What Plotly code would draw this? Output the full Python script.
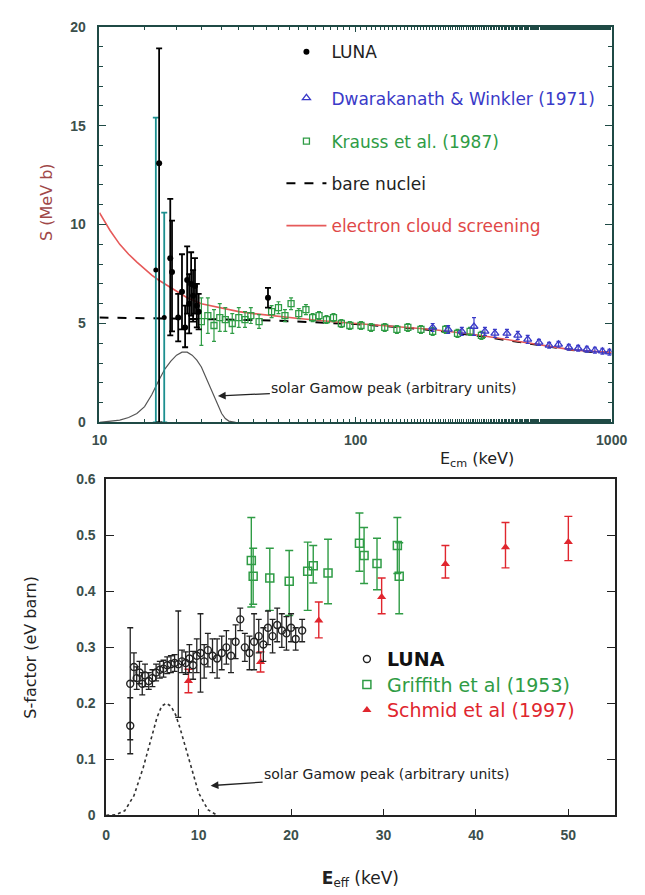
import math
import plotly.graph_objects as go

# ================= TOP PANEL DATA (3He(3He,2p)4He) =================
# LUNA points with black error bars
luna_top_E = [17.1, 18.9, 19.2, 20.3, 21.0, 21.6, 22.0, 22.4, 22.8, 23.2, 23.6, 24.0, 24.4, 45.5]
luna_top_S = [13.1, 8.3, 7.6, 5.3, 6.6, 4.8, 7.2, 6.0, 7.0, 6.4, 6.9, 5.9, 5.6, 6.3]
luna_top_ep = [5.8, 3.0, 2.6, 1.2, 1.9, 1.1, 1.7, 1.5, 1.6, 1.3, 1.4, 1.1, 0.9, 0.5]
luna_top_em = [13.1, 3.9, 3.0, 1.2, 1.9, 1.0, 1.7, 1.5, 1.6, 1.3, 1.4, 1.1, 0.9, 0.5]
# LUNA points whose (very large) error bars appear teal in the figure
luna_teal_E = [16.6, 17.9]
luna_teal_S = [7.7, 5.3]
luna_teal_ep = [7.7, 5.3]
luna_teal_em = [7.7, 5.3]

# Dwarakanath & Winkler (1971)
dw_E = [200, 230, 260, 290, 320, 350, 390, 430, 470, 520, 570, 620, 680, 740, 800, 860, 920, 980]
dw_S = [4.8, 4.7, 4.6, 4.85, 4.6, 4.5, 4.5, 4.4, 4.2, 4.05, 3.9, 3.95, 3.8, 3.75, 3.7, 3.65, 3.6, 3.55]
dw_err = [0.2, 0.2, 0.2, 0.45, 0.2, 0.2, 0.2, 0.2, 0.2, 0.15, 0.15, 0.15, 0.15, 0.15, 0.15, 0.15, 0.15, 0.15]

# Krauss et al. (1987)
kr_E = [25, 26.5, 28, 29.5, 31, 33, 35, 37, 39, 42, 47, 50, 53, 56, 60, 64, 68, 72, 77, 82, 88,
        95, 105, 115, 130, 145, 160, 180, 200, 225, 250, 280, 310]
kr_S = [5.1, 5.4, 4.9, 5.3, 5.2, 5.0, 5.3, 5.2, 5.4, 5.1, 5.6, 5.8, 5.4, 6.0, 5.5, 5.7, 5.3, 5.4, 5.2,
        5.3, 5.0, 4.9, 4.9, 4.8, 4.8, 4.7, 4.8, 4.7, 4.6, 4.7, 4.5, 4.6, 4.4]
kr_err = [1.2, 0.9, 0.8, 0.7, 0.6, 0.5, 0.5, 0.4, 0.4, 0.35, 0.3, 0.3, 0.3, 0.3, 0.25, 0.25, 0.2,
          0.2, 0.2, 0.2, 0.2, 0.2, 0.2, 0.2, 0.2, 0.2, 0.2, 0.2, 0.2, 0.2, 0.2, 0.2, 0.2]

# bare nuclei curve
bare_E = [10, 20, 30, 50, 70, 100, 150, 200, 300, 400, 500, 600, 700, 800, 900, 1000]
bare_S = [5.3, 5.25, 5.21, 5.14, 5.07, 4.97, 4.81, 4.66, 4.38, 4.14, 3.94, 3.78, 3.66, 3.58, 3.53, 3.52]

# electron cloud screening curve
scr_E = [10, 11, 12, 13, 14, 15, 16, 17, 18, 20, 22, 25, 30, 35, 40, 50, 60, 80, 100, 150, 200,
         300, 400, 500, 700, 1000]
scr_S = [10.6, 9.7, 9.0, 8.5, 8.1, 7.75, 7.45, 7.2, 7.0, 6.6, 6.3, 6.0, 5.8, 5.6, 5.5, 5.35, 5.25,
         5.1, 5.0, 4.85, 4.7, 4.42, 4.17, 3.96, 3.67, 3.53]

# solar Gamow peak (arbitrary units), top
gam1_E = [10, 11, 12, 13, 14, 15, 16, 17, 18, 19, 20, 21, 22, 23, 24, 25, 26, 27, 28, 29, 30, 31, 32, 34]
gam1_S = [0.0, 0.05, 0.12, 0.25, 0.45, 0.8, 1.4, 2.1, 2.7, 3.1, 3.4, 3.55, 3.55, 3.4, 3.15, 2.8,
          2.3, 1.85, 1.4, 0.95, 0.45, 0.2, 0.07, 0.0]

top_xticks = [10, 100, 1000]
top_xtick_text = ["10", "100", "1000"]
top_yticks = [0, 5, 10, 15, 20]

# ================= BOTTOM PANEL DATA (d(p,gamma)3He) =================
luna_bot_E = [2.6, 2.6, 3.0, 3.3, 3.6, 3.9, 4.2, 4.6, 5.0, 5.4, 5.8, 6.2, 6.6, 7.0, 7.4, 7.8, 8.2,
              8.6, 9.0, 9.4, 9.8, 10.2, 10.6, 11.0, 11.5, 12.0, 12.5, 13.0, 13.5, 14.0, 14.5, 15.0,
              15.5, 16.0, 16.5, 17.0, 17.5, 18.0, 18.5, 19.0, 19.5, 20.0, 20.5, 21.2]
luna_bot_S = [0.16, 0.235, 0.265, 0.245, 0.255, 0.235, 0.25, 0.24, 0.245, 0.255, 0.26, 0.262, 0.268,
              0.27, 0.272, 0.27, 0.275, 0.272, 0.28, 0.268, 0.285, 0.29, 0.275, 0.295, 0.285, 0.28,
              0.29, 0.3, 0.285, 0.31, 0.35, 0.3, 0.29, 0.31, 0.32, 0.305, 0.335, 0.32, 0.34, 0.33,
              0.325, 0.335, 0.315, 0.33]
luna_bot_err = [0.05, 0.1, 0.025, 0.02, 0.02, 0.02, 0.02, 0.015, 0.015, 0.015, 0.015, 0.015, 0.015,
                0.015, 0.015, 0.095, 0.02, 0.02, 0.025, 0.025, 0.03, 0.07, 0.03, 0.03, 0.03, 0.035,
                0.03, 0.03, 0.03, 0.03, 0.02, 0.025, 0.03, 0.05, 0.03, 0.03, 0.03, 0.03, 0.03, 0.03,
                0.03, 0.025, 0.02, 0.02]

gr_E = [15.7, 15.9, 17.7, 19.8, 21.8, 22.4, 24.0, 27.4, 27.9, 29.3, 31.5, 31.7]
gr_S = [0.455, 0.427, 0.424, 0.418, 0.436, 0.446, 0.433, 0.486, 0.464, 0.45, 0.482, 0.427]
gr_ep = [0.077, 0.05, 0.053, 0.055, 0.052, 0.036, 0.06, 0.054, 0.05, 0.045, 0.05, 0.06]
gr_em = [0.083, 0.05, 0.058, 0.061, 0.07, 0.031, 0.055, 0.05, 0.05, 0.047, 0.05, 0.067]

sc_E = [8.9, 16.7, 23.0, 29.8, 36.7, 43.2, 50.0]
sc_S = [0.24, 0.274, 0.348, 0.39, 0.449, 0.479, 0.488]
sc_ep = [0.021, 0.018, 0.033, 0.034, 0.033, 0.044, 0.046]
sc_em = [0.021, 0.018, 0.031, 0.03, 0.025, 0.037, 0.033]

gam2_E = [0, 1, 2, 3, 4, 5, 5.5, 6, 6.5, 7, 7.5, 8, 9, 10, 11, 12]
gam2_S = [0, 0.001, 0.008, 0.035, 0.085, 0.145, 0.175, 0.195, 0.2, 0.195, 0.18, 0.155, 0.095,
          0.04, 0.01, 0.0]

bot_xticks = [0, 10, 20, 30, 40, 50]
bot_yticks = [0, 0.1, 0.2, 0.3, 0.4, 0.5, 0.6]

# ================= COLOURS / STYLE =================
BLUE = "#3a3ac8"
GREEN = "#2f9c45"
RED = "#e0262e"
SCR = "#e65a5a"
TEAL = "#1c8f8f"
FRAME = "#1f4a45"
FONT = "Liberation Sans"
LFONT = "DejaVu Sans"
W, H = 645, 895


def px(v, total):
    return v / total


fig = go.Figure()

# ---------- top panel traces ----------
fig.add_trace(go.Scatter(x=gam1_E, y=gam1_S, mode="lines", line=dict(color="#555", width=1.2),
                         showlegend=False, xaxis="x", yaxis="y"))
fig.add_trace(go.Scatter(x=bare_E, y=bare_S, mode="lines", line=dict(color="black", width=2, dash="dash"),
                         name="bare nuclei", legend="legend5", xaxis="x", yaxis="y"))
fig.add_trace(go.Scatter(x=scr_E, y=scr_S, mode="lines", line=dict(color=SCR, width=1.6),
                         name="electron cloud screening", legend="legend6", xaxis="x", yaxis="y"))
fig.add_trace(go.Scatter(x=kr_E, y=kr_S, mode="markers",
                         marker=dict(symbol="square-open", size=6, color=GREEN, line=dict(width=1.3)),
                         error_y=dict(type="data", array=kr_err, color=GREEN, thickness=1.2, width=2),
                         name="Krauss et al. (1987)", legend="legend4", xaxis="x", yaxis="y"))
fig.add_trace(go.Scatter(x=dw_E, y=dw_S, mode="markers",
                         marker=dict(symbol="triangle-up-open", size=7, color=BLUE, line=dict(width=1.3)),
                         error_y=dict(type="data", array=dw_err, color=BLUE, thickness=1.2, width=2),
                         name="Dwarakanath & Winkler (1971)", legend="legend3", xaxis="x", yaxis="y"))
fig.add_trace(go.Scatter(x=luna_teal_E, y=luna_teal_S, mode="markers",
                         marker=dict(symbol="circle", size=5, color="black"),
                         error_y=dict(type="data", symmetric=False, array=luna_teal_ep,
                                      arrayminus=luna_teal_em, color=TEAL, thickness=1.8, width=3),
                         showlegend=False, xaxis="x", yaxis="y"))
fig.add_trace(go.Scatter(x=luna_top_E, y=luna_top_S, mode="markers",
                         marker=dict(symbol="circle", size=6, color="black"),
                         error_y=dict(type="data", symmetric=False, array=luna_top_ep,
                                      arrayminus=luna_top_em, color="black", thickness=1.8, width=3),
                         name="LUNA", legend="legend", xaxis="x", yaxis="y"))

# ---------- bottom panel traces ----------
fig.add_trace(go.Scatter(x=gam2_E, y=gam2_S, mode="lines", line=dict(color="#333", width=1.6, dash="dot"),
                         showlegend=False, xaxis="x2", yaxis="y2"))
fig.add_trace(go.Scatter(x=gr_E, y=gr_S, mode="markers",
                         marker=dict(symbol="square-open", size=8, color=GREEN, line=dict(width=1.5)),
                         error_y=dict(type="data", symmetric=False, array=gr_ep, arrayminus=gr_em,
                                      color=GREEN, thickness=1.4, width=4),
                         name="Griffith et al (1953)", legend="legend7", xaxis="x2", yaxis="y2"))
fig.add_trace(go.Scatter(x=sc_E, y=sc_S, mode="markers",
                         marker=dict(symbol="triangle-up", size=8, color=RED),
                         error_y=dict(type="data", symmetric=False, array=sc_ep, arrayminus=sc_em,
                                      color=RED, thickness=1.4, width=4),
                         name="Schmid et al (1997)", legend="legend8", xaxis="x2", yaxis="y2"))
fig.add_trace(go.Scatter(x=luna_bot_E, y=luna_bot_S, mode="markers",
                         marker=dict(symbol="circle-open", size=7, color="#222", line=dict(width=1.4)),
                         error_y=dict(type="data", array=luna_bot_err, color="#222", thickness=1.3, width=3),
                         name="LUNA", legend="legend2", xaxis="x2", yaxis="y2"))

tickfont = dict(family=FONT, size=14, color="#3b4f4c", weight="bold")


def leg(xpx, ypx, size, color, weight="normal", itemwidth=40):
    return dict(x=px(xpx, W), y=1 - px(ypx, H), xanchor="left", yanchor="middle",
                bgcolor="rgba(0,0,0,0)", itemwidth=itemwidth,
                font=dict(family=LFONT, size=size, color=color, weight=weight))


fig.update_layout(
    width=W, height=H, margin=dict(l=0, r=0, t=0, b=0),
    paper_bgcolor="white", plot_bgcolor="white",
    font=dict(family=FONT, size=13, color="black"),
    xaxis=dict(domain=[px(95, W), px(627, W)], anchor="y", type="log", range=[1, 3],
               tickvals=top_xticks, ticktext=top_xtick_text, ticks="inside", ticklen=6,
               tickcolor=FRAME, showline=True, linecolor=FRAME, linewidth=1.6, mirror="ticks",
               showgrid=False, zeroline=False, tickfont=tickfont, ticklabelstandoff=4,
               minor=dict(ticks="inside", ticklen=4, tickcolor=FRAME, showgrid=False)),
    yaxis=dict(domain=[1 - px(422, H), 1 - px(19, H)], anchor="x", range=[0, 20],
               tickvals=top_yticks, ticks="inside", ticklen=7, tickcolor=FRAME,
               showline=True, linecolor=FRAME, linewidth=1.6, mirror="ticks",
               showgrid=False, zeroline=False, tickfont=tickfont, ticklabelstandoff=9,
               minor=dict(ticks="inside", ticklen=4, dtick=1, tickcolor=FRAME, showgrid=False)),
    xaxis2=dict(domain=[px(102, W), px(630, W)], anchor="y2", range=[0, 55],
                tickvals=bot_xticks, ticks="inside", ticklen=7, tickcolor="#222",
                showline=True, linecolor="#222", linewidth=1.6, mirror=True,
                showgrid=False, zeroline=False, tickfont=tickfont, ticklabelstandoff=6,
                title=dict(text="<b>E</b><sub>eff</sub> (keV)", standoff=30,
                           font=dict(family=LFONT, size=17, color="#222"))),
    yaxis2=dict(domain=[1 - px(822, H), 1 - px(480, H)], anchor="x2", range=[0, 0.6],
                tickvals=bot_yticks, ticks="inside", ticklen=8, tickcolor="#222",
                showline=True, linecolor="#222", linewidth=1.6, mirror="ticks",
                showgrid=False, zeroline=False, tickfont=tickfont, ticklabelstandoff=6,
                title=dict(text="S-factor (eV barn)", standoff=36,
                           font=dict(family=LFONT, size=16, color="#222"))),
    # top legend rows
    legend=leg(284, 45, 17, "#222"),
    legend3=leg(284, 92, 17, BLUE),
    legend4=leg(284, 136, 17, GREEN),
    legend5=leg(284, 179, 17, "#222"),
    legend6=leg(284, 222, 17, "#e04848"),
    # bottom legend rows
    legend2=leg(352, 663, 19, "#111", weight="bold", itemwidth=30),
    legend7=leg(352, 689, 19, GREEN, itemwidth=30),
    legend8=leg(352, 715, 19, RED, itemwidth=30),
    showlegend=True,
)

annos = [
    # axis titles of the top panel
    dict(text="S (MeV b)", x=px(40, W), y=1 - px(198, H), xref="paper", yref="paper",
         xanchor="center", yanchor="middle",
         textangle=-90, showarrow=False, font=dict(family=LFONT, size=16, color="#a04848")),
    dict(text="E<sub>cm</sub> (keV)", x=px(487, W), y=1 - px(460, H), xref="paper", yref="paper",
         xanchor="center", yanchor="middle",
         showarrow=False, font=dict(family=LFONT, size=16, color="#222")),
    # Gamow peak labels with arrows (arrow head at the curve, text offset in pixels)
    dict(text="solar Gamow peak (arbitrary units)", x=math.log10(29.0), y=1.34, xref="x", yref="y",
         showarrow=True, ax=176, ay=-8, arrowhead=2, arrowsize=1.2, arrowwidth=1.3,
         arrowcolor="#222", font=dict(family=LFONT, size=14, color="#222")),
    dict(text="solar Gamow peak (arbitrary units)", x=11.3, y=0.053, xref="x2", yref="y2",
         showarrow=True, ax=176, ay=-12, arrowhead=2, arrowsize=1.2, arrowwidth=1.3,
         arrowcolor="#222", font=dict(family=LFONT, size=14, color="#222")),
]
fig.update_layout(annotations=annos)

fig.write_html("out.html")
